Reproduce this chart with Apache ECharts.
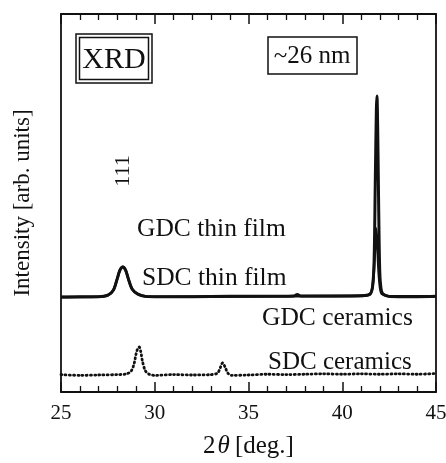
<!DOCTYPE html>
<html><head><meta charset="utf-8">
<script src="https://cdn.jsdelivr.net/npm/echarts@6/dist/echarts.min.js"></script>
<style>html,body{margin:0;padding:0;background:#fff}#c{width:446px;height:463px}</style>
</head><body><div id="c"></div>
<script>
// 2θ values (deg) and intensities (arb. units)
const gdcFilmX = [25, 26, 27, 27.5, 27.8, 28.0, 28.15, 28.3, 28.45, 28.6, 28.8, 29.1, 29.5, 30, 32, 34, 36, 37.4, 37.6, 37.8, 39, 40.5, 41.2, 41.5, 41.62, 41.7, 41.76, 41.82, 41.85, 41.89, 41.94, 42.0, 42.08, 42.2, 42.5, 43, 44, 45];
const gdcFilmY = [25.1, 25.2, 25.2, 25.6, 27.0, 30.0, 32.3, 33.1, 32.2, 29.8, 27.2, 25.9, 25.3, 25.2, 25.2, 25.3, 25.3, 25.4, 25.8, 25.4, 25.4, 25.4, 25.5, 26.0, 28.0, 35.0, 55.0, 75.0, 78.3, 70.0, 50.0, 32.0, 27.0, 25.8, 25.3, 25.2, 25.2, 25.3];
const sdcFilmX = [25, 27, 27.5, 27.8, 28.0, 28.15, 28.3, 28.45, 28.6, 28.8, 29.1, 29.5, 30, 35, 41.2, 41.5, 41.62, 41.7, 41.76, 41.8, 41.86, 41.94, 42.02, 42.1, 42.2, 42.5, 45];
const sdcFilmY = [25.1, 25.2, 25.6, 27.0, 30.0, 32.3, 33.1, 32.2, 29.8, 27.2, 25.9, 25.3, 25.2, 25.3, 25.5, 26.0, 28.0, 33.0, 40.0, 43.4, 40.0, 32.0, 27.5, 26.0, 25.8, 25.3, 25.3];
const sdcCerX = [25, 26, 27, 28, 28.5, 28.75, 28.9, 29.0, 29.1, 29.17, 29.25, 29.35, 29.5, 29.7, 30, 31, 32, 33, 33.35, 33.5, 33.62, 33.75, 33.9, 34.1, 35, 36, 37, 38, 39, 40, 41, 42, 43, 44, 45];
const sdcCerY = [4.6, 4.4, 4.5, 4.6, 4.8, 5.6, 7.5, 10.0, 11.6, 11.9, 10.8, 8.0, 5.6, 4.7, 4.4, 4.6, 4.5, 4.6, 5.0, 6.5, 7.7, 6.6, 5.0, 4.4, 4.5, 4.7, 4.6, 4.7, 4.8, 4.7, 4.8, 4.7, 4.8, 4.7, 4.9];
const xTicks = [25, 30, 35, 40, 45];

const zip = (a, b) => a.map((v, i) => [v, b[i]]);
const F = '"Liberation Serif", "Times New Roman", serif';
const C = '#111';
const chart = echarts.init(document.getElementById('c'), null, {renderer: 'canvas'});
const axisCommon = {
  type: 'value', min: xTicks[0], max: xTicks[xTicks.length - 1], interval: 5,
  axisLine: {onZero: false, lineStyle: {color: C, width: 1.8}},
  axisTick: {inside: true, length: 10, lineStyle: {color: C, width: 1.5}},
  minorTick: {show: true, splitNumber: 5, length: 6, lineStyle: {color: C, width: 1.3}},
  splitLine: {show: false}
};
chart.setOption({
  animation: false,
  grid: {left: 61, right: 10, top: 14, bottom: 71, containLabel: false, outerBoundsMode: 'none'},
  xAxis: [
    Object.assign({}, axisCommon, {
      position: 'bottom',
      axisLabel: {color: C, fontFamily: F, fontSize: 21, margin: 11, hideOverlap: false},
      name: '{a|2}{b|θ}{a|[deg.]}', nameLocation: 'middle', nameGap: 42,
      nameTextStyle: {rich: {a: {fontFamily: F, fontSize: 25, color: C}, b: {fontFamily: F, fontSize: 25, fontStyle: 'italic', color: C, padding: [0, 5, 0, 2]}}}
    }),
    Object.assign({}, axisCommon, {position: 'top', axisLabel: {show: false}})
  ],
  yAxis: [
    {type: 'value', min: 0, max: 100, position: 'left',
     axisLine: {show: true, lineStyle: {color: C, width: 1.8}}, axisTick: {show: false}, axisLabel: {show: false}, splitLine: {show: false},
     name: 'Intensity [arb. units]', nameLocation: 'middle', nameGap: 27,
     nameTextStyle: {fontFamily: F, fontSize: 23, color: C}},
    {type: 'value', min: 0, max: 100, position: 'right',
     axisLine: {show: true, lineStyle: {color: C, width: 1.8}}, axisTick: {show: false}, axisLabel: {show: false}, splitLine: {show: false}}
  ],
  series: [
    {name: 'SDC thin film', type: 'line', data: zip(sdcFilmX, sdcFilmY), showSymbol: false, smooth: 0.3,
     lineStyle: {color: C, width: 2.6}},
    {name: 'GDC thin film', type: 'line', data: zip(gdcFilmX, gdcFilmY), showSymbol: false, smooth: 0.3,
     lineStyle: {color: C, width: 3}},
    {name: 'SDC ceramics', type: 'line', data: zip(sdcCerX, sdcCerY), showSymbol: false, smooth: 0.3,
     lineStyle: {color: C, width: 2.8, type: [1, 3.2], cap: 'round'}}
  ],
  graphic: [
    {type: 'rect', shape: {x: 76, y: 34, width: 76, height: 49}, style: {fill: 'none', stroke: C, lineWidth: 1.5}},
    {type: 'rect', shape: {x: 79.5, y: 37.5, width: 69, height: 42}, style: {fill: 'none', stroke: C, lineWidth: 1.5}},
    {type: 'text', x: 114, y: 60, style: {text: 'XRD', font: '30px ' + F, fill: C, textAlign: 'center', textVerticalAlign: 'middle'}},
    {type: 'rect', shape: {x: 268, y: 37, width: 89, height: 37}, style: {fill: 'none', stroke: C, lineWidth: 1.5}},
    {type: 'text', x: 312, y: 56, style: {text: '~26 nm', font: '25px ' + F, fill: C, textAlign: 'center', textVerticalAlign: 'middle'}},
    {type: 'text', x: 123, y: 171, rotation: Math.PI / 2, style: {text: '111', font: '22px ' + F, fill: C, textAlign: 'center', textVerticalAlign: 'middle'}},
    {type: 'text', x: 137, y: 229, style: {text: 'GDC thin film', font: '25.5px ' + F, fill: C, textVerticalAlign: 'middle'}},
    {type: 'text', x: 142, y: 278, style: {text: 'SDC thin film', font: '25.5px ' + F, fill: C, textVerticalAlign: 'middle'}},
    {type: 'text', x: 262, y: 318, style: {text: 'GDC ceramics', font: '25.5px ' + F, fill: C, textVerticalAlign: 'middle'}},
    {type: 'text', x: 268, y: 362, style: {text: 'SDC ceramics', font: '25px ' + F, fill: C, textVerticalAlign: 'middle'}}
  ]
});
</script></body></html>
